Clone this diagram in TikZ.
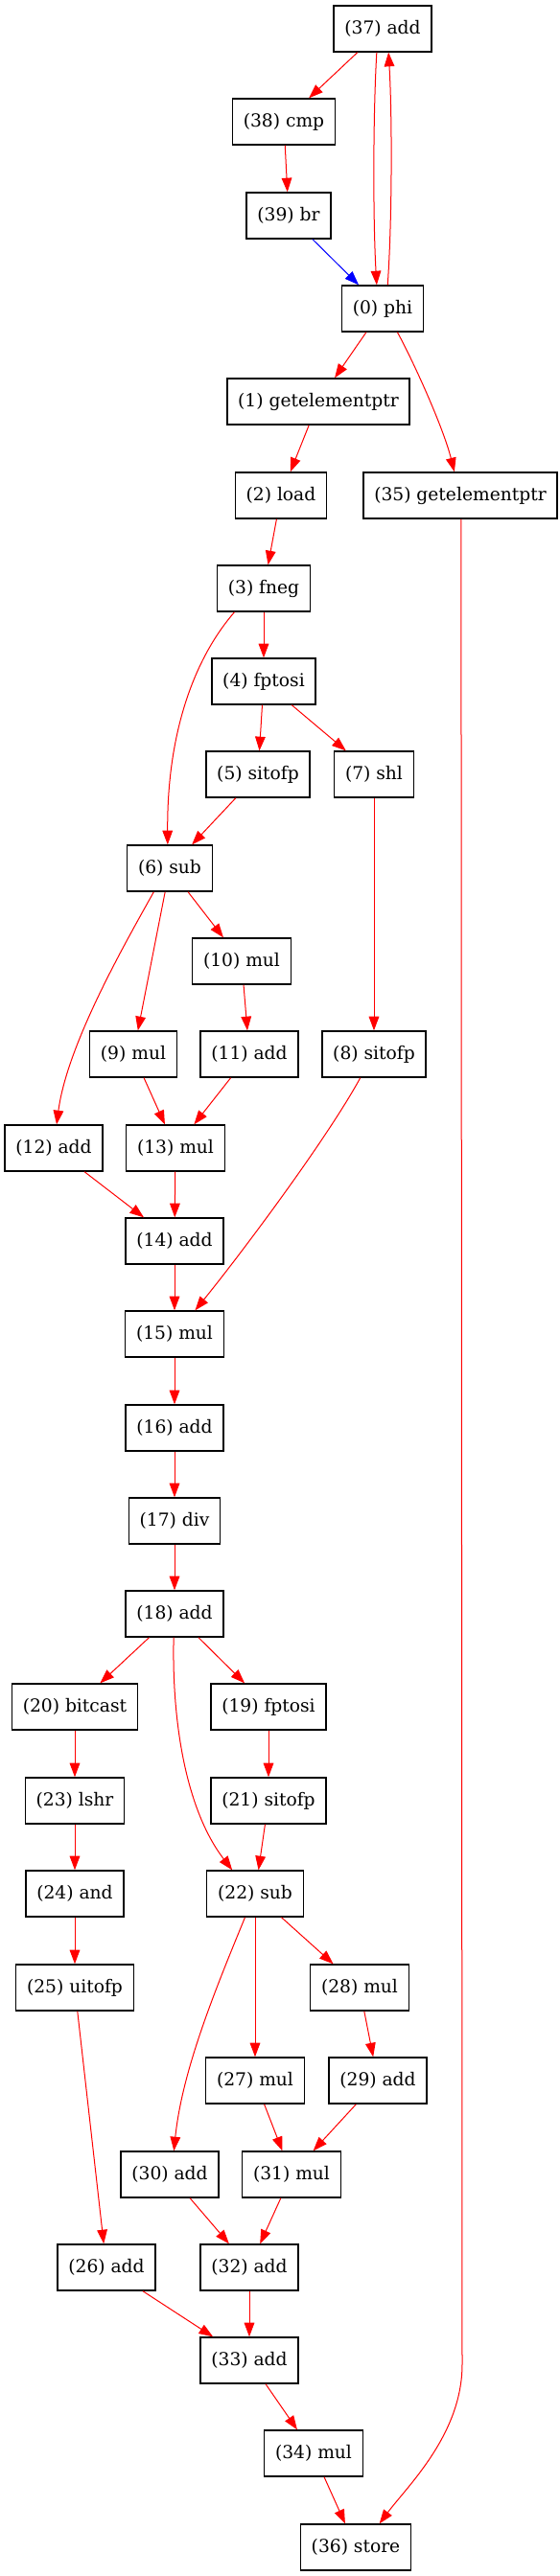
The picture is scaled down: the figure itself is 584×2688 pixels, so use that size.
\documentclass[tikz,border=0pt]{standalone}
\usepackage{fontspec}
\newfontfamily\opfont{DejaVu Serif}
\usetikzlibrary{arrows.meta}

\tikzset{
  op/.style={draw, line width=1pt, font=\opfont\fontsize{14}{17}\selectfont,
    minimum height=36pt, minimum width=54pt, inner xsep=8.5pt, inner ysep=0pt},
  dep/.style={draw=red, line width=0.75pt, -{Triangle[length=11pt,width=8pt]}},
  ctl/.style={dep, draw=blue}
}

\begin{document}
\begin{tikzpicture}[x=0.75pt,y=0.75pt]
\useasboundingbox (0,0) rectangle (584,-2688);
\node[op] (n37) at (399,-30) {(37) add};
\node[op] (n38) at (296,-127) {(38) cmp};
\node[op] (n39) at (301,-225) {(39) br};
\node[op] (n0) at (399,-322) {(0) phi};
\node[op] (n1) at (332,-419) {(1) getelementptr};
\node[op] (n2) at (293,-517) {(2) load};
\node[op] (n35) at (480,-517) {(35) getelementptr};
\node[op] (n3) at (275,-614) {(3) fneg};
\node[op] (n4) at (275,-711) {(4) fptosi};
\node[op] (n5) at (269,-808) {(5) sitofp};
\node[op] (n7) at (390,-808) {(7) shl};
\node[op] (n6) at (177,-906) {(6) sub};
\node[op] (n10) at (252,-1003) {(10) mul};
\node[op] (n9) at (139,-1100) {(9) mul};
\node[op] (n11) at (260,-1100) {(11) add};
\node[op] (n8) at (390,-1100) {(8) sitofp};
\node[op] (n12) at (56,-1198) {(12) add};
\node[op] (n13) at (183,-1198) {(13) mul};
\node[op] (n14) at (182,-1295) {(14) add};
\node[op] (n15) at (182,-1392) {(15) mul};
\node[op] (n16) at (182,-1490) {(16) add};
\node[op] (n17) at (182,-1587) {(17) div};
\node[op] (n18) at (182,-1684) {(18) add};
\node[op] (n20) at (78,-1781) {(20) bitcast};
\node[op] (n19) at (280,-1781) {(19) fptosi};
\node[op] (n23) at (78,-1879) {(23) lshr};
\node[op] (n21) at (280,-1879) {(21) sitofp};
\node[op] (n24) at (78,-1976) {(24) and};
\node[op] (n22) at (266,-1976) {(22) sub};
\node[op] (n25) at (78,-2074) {(25) uitofp};
\node[op] (n28) at (375,-2074) {(28) mul};
\node[op] (n27) at (266,-2171) {(27) mul};
\node[op] (n29) at (394,-2171) {(29) add};
\node[op] (n30) at (177,-2269) {(30) add};
\node[op] (n31) at (304,-2269) {(31) mul};
\node[op] (n26) at (111,-2366) {(26) add};
\node[op] (n32) at (260,-2366) {(32) add};
\node[op] (n33) at (260,-2463) {(33) add};
\node[op] (n34) at (327,-2560) {(34) mul};
\node[op] (n36) at (371,-2658) {(36) store};

\draw[dep] (n37) -- (n38);
\draw[dep] (n38) -- (n39);
\draw[ctl] (n39) -- (n0);
\draw[dep] (n37.-104) .. controls (389,-120) and (389,-230) .. (n0.104);
\draw[dep] (n0.78) .. controls (409,-230) and (409,-120) .. (n37.-76);
\draw[dep] (n0) -- (n1);
\draw[dep] (n0.-58) .. controls (430,-375) and (462,-445) .. (n35.104);
\draw[dep] (n1) -- (n2);
\draw[dep] (n2) -- (n3);
\draw[dep] (n3) -- (n4);
\draw[dep] (n3.-141) .. controls (200,-690) and (174,-770) .. (n6.95);
\draw[dep] (n4) -- (n5);
\draw[dep] (n4) -- (n7);
\draw[dep] (n5) -- (n6);
\draw[dep] (n7) -- (n8);
\draw[dep] (n6) -- (n9);
\draw[dep] (n6) -- (n10);
\draw[dep] (n6.-124) .. controls (130,-985) and (70,-1090) .. (n12.83);
\draw[dep] (n10) -- (n11);
\draw[dep] (n9) -- (n13);
\draw[dep] (n11) -- (n13);
\draw[dep] (n12) -- (n14);
\draw[dep] (n13) -- (n14);
\draw[dep] (n14) -- (n15);
\draw[dep] (n8.-120) .. controls (340,-1190) and (250,-1310) .. (n15.49);
\draw[dep] (n15) -- (n16);
\draw[dep] (n16) -- (n17);
\draw[dep] (n17) -- (n18);
\draw[dep] (n18) -- (n20);
\draw[dep] (n18) -- (n19);
\draw[dep] (n18.-92) .. controls (179,-1800) and (195,-1890) .. (n22.134);
\draw[dep] (n20) -- (n23);
\draw[dep] (n19) -- (n21);
\draw[dep] (n23) -- (n24);
\draw[dep] (n21) -- (n22);
\draw[dep] (n24) -- (n25);
\draw[dep] (n22) -- (n27);
\draw[dep] (n22) -- (n28);
\draw[dep] (n22.-113) .. controls (225,-2075) and (190,-2160) .. (n30.80);
\draw[dep] (n28) -- (n29);
\draw[dep] (n27) -- (n31);
\draw[dep] (n29) -- (n31);
\draw[dep] (n25) -- (n26);
\draw[dep] (n30) -- (n32);
\draw[dep] (n31) -- (n32);
\draw[dep] (n26) -- (n33);
\draw[dep] (n32) -- (n33);
\draw[dep] (n33) -- (n34);
\draw[dep] (n34) -- (n36);
\draw[dep] (n35.-88) -- (482,-2467) .. controls (482,-2540) and (425,-2594) .. (n36.45);
\end{tikzpicture}
\end{document}
